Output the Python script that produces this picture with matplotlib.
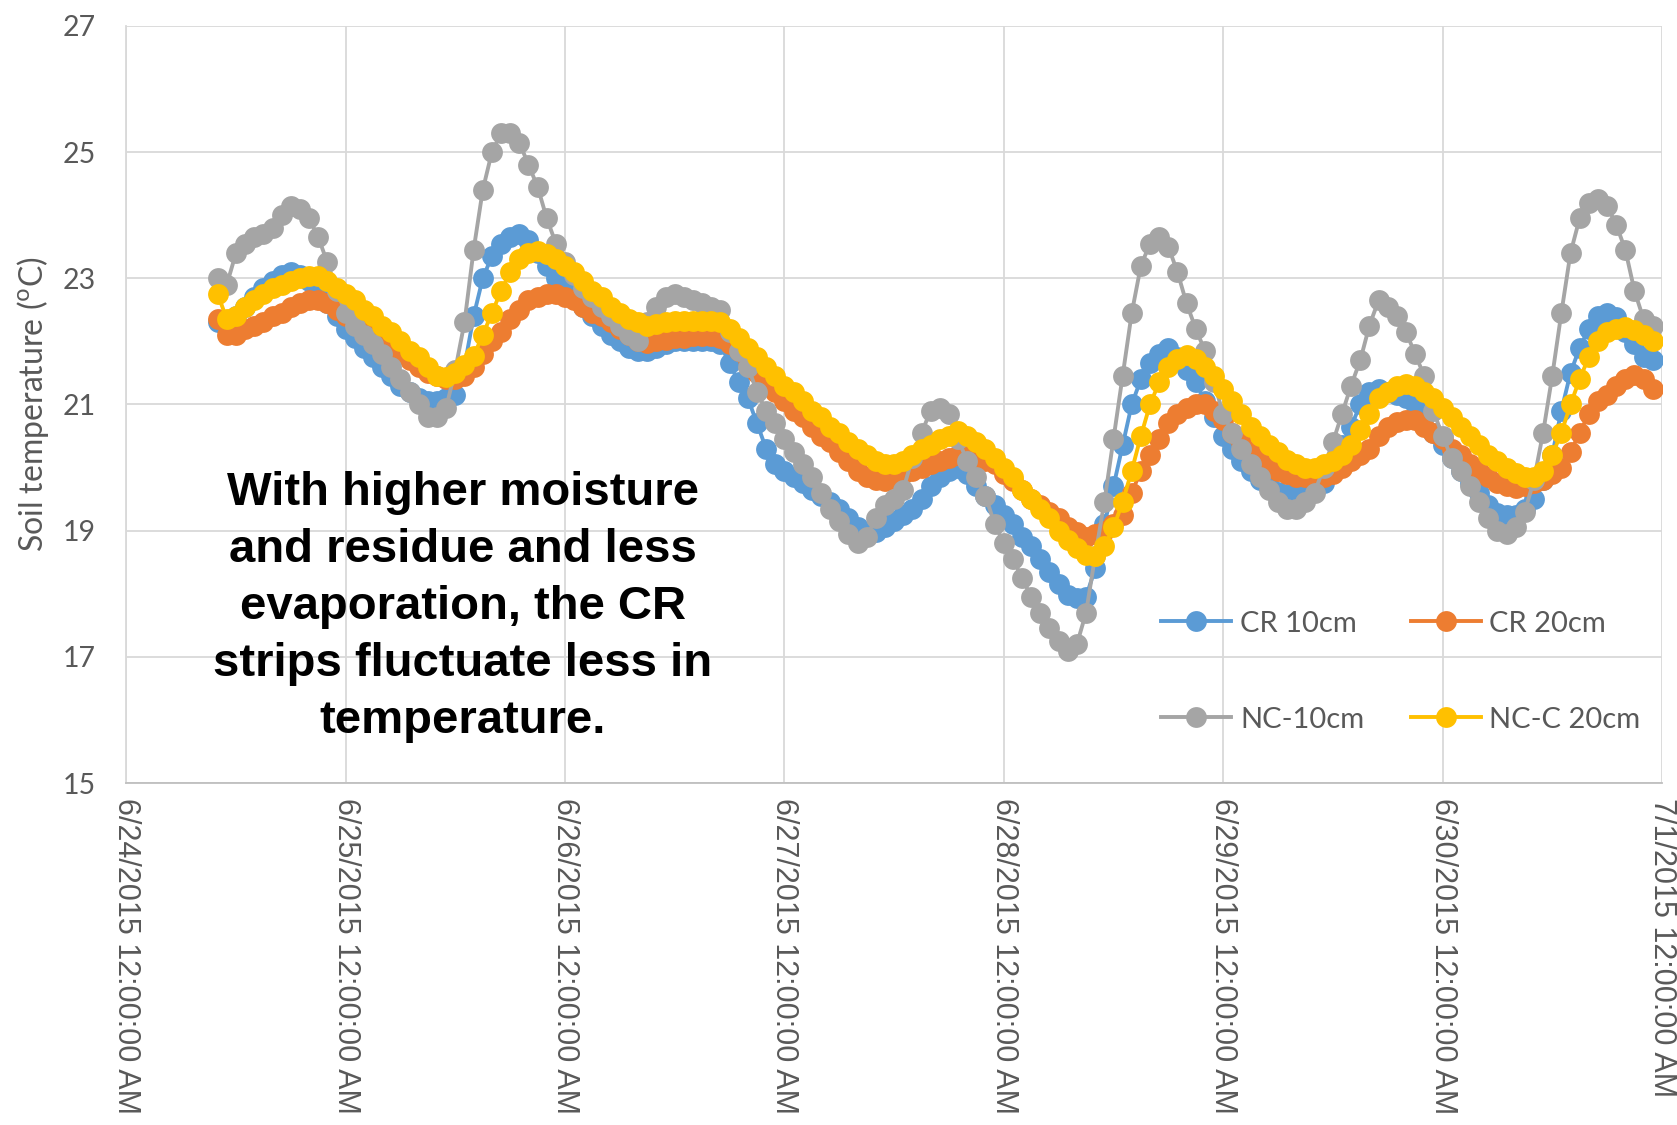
import matplotlib
matplotlib.use("Agg")
import matplotlib.pyplot as plt

# hourly readings, first one at 6/24 10:00 (hour 10 after 6/24 0:00)
start_hour = 10

cr_10 = [22.3, 22.2, 22.4, 22.55, 22.7, 22.85, 22.95, 23.05, 23.1, 23.05, 22.95, 22.8, 22.6, 22.4,
         22.2, 22.05, 21.9, 21.75, 21.6, 21.45, 21.3, 21.2, 21.1, 21.05, 21.05, 21.1, 21.15, 21.6, 22.4, 23.0, 23.35, 23.55, 23.65, 23.7, 23.6, 23.4, 23.2, 23.0,
         22.85, 22.7, 22.55, 22.4, 22.25, 22.1, 22.0, 21.9, 21.85, 21.85, 21.9, 21.95, 22.0, 22.0, 22.0, 22.0, 22.0, 21.95, 21.65, 21.35, 21.1, 20.7, 20.3, 20.05,
         19.95, 19.85, 19.75, 19.65, 19.55, 19.45, 19.35, 19.2, 19.05, 18.98, 18.98, 19.05, 19.15, 19.25, 19.35, 19.5, 19.7, 19.85, 19.95, 20.0, 19.9, 19.7, 19.55, 19.4,
         19.25, 19.1, 18.9, 18.75, 18.55, 18.35, 18.15, 17.98, 17.93, 17.95, 18.4, 19.1, 19.7, 20.35, 21.0, 21.4, 21.65, 21.8, 21.9, 21.75, 21.55, 21.35, 21.05, 20.8,
         20.5, 20.3, 20.1, 19.95, 19.8, 19.7, 19.62, 19.58, 19.58, 19.6, 19.65, 19.75, 20.0, 20.35, 20.65, 21.0, 21.2, 21.25, 21.2, 21.15, 21.1, 21.0, 20.8, 20.55,
         20.35, 20.15, 19.95, 19.75, 19.6, 19.4, 19.28, 19.25, 19.25, 19.35, 19.5, 19.8, 20.2, 20.9, 21.5, 21.9, 22.2, 22.4, 22.45, 22.38, 22.15, 21.95, 21.75, 21.7]

cr_20 = [22.35, 22.1, 22.1, 22.2, 22.25, 22.3, 22.4, 22.45, 22.55, 22.6, 22.65, 22.65, 22.6, 22.5,
         22.4, 22.3, 22.2, 22.1, 22.0, 21.9, 21.8, 21.7, 21.6, 21.5, 21.45, 21.4, 21.4, 21.45, 21.6, 21.8, 22.0, 22.15, 22.35, 22.5, 22.65, 22.7, 22.75, 22.75,
         22.7, 22.65, 22.55, 22.45, 22.4, 22.3, 22.2, 22.1, 22.0, 21.98, 22.0, 22.02, 22.05, 22.05, 22.08, 22.08, 22.08, 22.05, 21.95, 21.85, 21.7, 21.5, 21.35, 21.2,
         21.05, 20.9, 20.8, 20.65, 20.5, 20.4, 20.25, 20.1, 19.95, 19.85, 19.8, 19.78, 19.82, 19.9, 19.95, 20.0, 20.05, 20.1, 20.15, 20.2, 20.2, 20.15, 20.1, 20.05,
         19.9, 19.78, 19.65, 19.5, 19.4, 19.3, 19.2, 19.05, 18.98, 18.9, 18.95, 19.0, 19.1, 19.25, 19.6, 19.95, 20.2, 20.45, 20.7, 20.85, 20.95, 21.0, 21.0, 20.9,
         20.75, 20.55, 20.4, 20.25, 20.1, 20.0, 19.95, 19.9, 19.85, 19.85, 19.85, 19.85, 19.9, 20.0, 20.1, 20.2, 20.3, 20.5, 20.65, 20.72, 20.75, 20.75, 20.65, 20.55,
         20.45, 20.3, 20.2, 20.05, 19.95, 19.85, 19.75, 19.7, 19.68, 19.7, 19.75, 19.8, 19.9, 20.0, 20.25, 20.55, 20.85, 21.05, 21.15, 21.3, 21.4, 21.47, 21.4, 21.25]

nc_10 = [23.0, 22.9, 23.4, 23.55, 23.65, 23.7, 23.8, 24.0, 24.15, 24.1, 23.95, 23.65, 23.25, 22.8,
         22.45, 22.25, 22.1, 21.95, 21.8, 21.6, 21.4, 21.2, 21.0, 20.8, 20.8, 20.95, 21.55, 22.3, 23.45, 24.4, 25.0, 25.3, 25.3, 25.15, 24.8, 24.45, 23.95, 23.55,
         23.25, 23.05, 22.85, 22.7, 22.55, 22.4, 22.25, 22.1, 22.0, 22.3, 22.55, 22.7, 22.75, 22.7, 22.65, 22.6, 22.55, 22.5, 22.15, 21.85, 21.6, 21.2, 20.9, 20.7,
         20.45, 20.25, 20.05, 19.85, 19.6, 19.35, 19.15, 18.95, 18.8, 18.9, 19.2, 19.4, 19.5, 19.65, 20.15, 20.55, 20.9, 20.95, 20.85, 20.45, 20.1, 19.85, 19.55, 19.1,
         18.8, 18.55, 18.25, 17.95, 17.7, 17.45, 17.25, 17.1, 17.2, 17.7, 18.6, 19.45, 20.45, 21.45, 22.45, 23.2, 23.55, 23.65, 23.5, 23.1, 22.6, 22.2, 21.85, 21.35,
         20.85, 20.55, 20.3, 20.05, 19.85, 19.65, 19.45, 19.35, 19.35, 19.45, 19.6, 20.0, 20.4, 20.85, 21.3, 21.7, 22.25, 22.65, 22.55, 22.4, 22.15, 21.8, 21.45, 20.9,
         20.5, 20.15, 19.95, 19.7, 19.45, 19.2, 19.0, 18.95, 19.05, 19.3, 19.8, 20.55, 21.45, 22.45, 23.4, 23.95, 24.2, 24.25, 24.15, 23.85, 23.45, 22.8, 22.35, 22.25]

ncc_20 = [22.75, 22.35, 22.4, 22.55, 22.65, 22.75, 22.85, 22.9, 22.95, 23.0, 23.03, 23.03, 22.95, 22.85,
          22.75, 22.65, 22.5, 22.4, 22.25, 22.15, 22.0, 21.85, 21.75, 21.6, 21.45, 21.43, 21.5, 21.62, 21.77, 22.1, 22.45, 22.8, 23.1, 23.3, 23.4, 23.43, 23.38, 23.3,
          23.2, 23.1, 22.95, 22.8, 22.7, 22.55, 22.45, 22.35, 22.3, 22.25, 22.28, 22.3, 22.32, 22.32, 22.32, 22.32, 22.32, 22.3, 22.2, 22.05, 21.9, 21.75, 21.6, 21.45,
          21.3, 21.2, 21.05, 20.9, 20.8, 20.65, 20.55, 20.4, 20.3, 20.2, 20.1, 20.05, 20.05, 20.1, 20.2, 20.3, 20.35, 20.45, 20.5, 20.58, 20.5, 20.4, 20.3, 20.15,
          20.0, 19.85, 19.65, 19.5, 19.35, 19.2, 19.0, 18.85, 18.72, 18.62, 18.6, 18.75, 19.05, 19.45, 19.95, 20.5, 21.0, 21.35, 21.6, 21.72, 21.78, 21.72, 21.6, 21.45,
          21.25, 21.05, 20.85, 20.65, 20.5, 20.35, 20.25, 20.12, 20.05, 20.0, 20.0, 20.05, 20.1, 20.2, 20.35, 20.6, 20.85, 21.1, 21.2, 21.3, 21.32, 21.3, 21.2, 21.1,
          20.95, 20.8, 20.65, 20.5, 20.35, 20.2, 20.1, 20.0, 19.92, 19.85, 19.85, 19.95, 20.2, 20.55, 21.0, 21.4, 21.75, 22.0, 22.15, 22.2, 22.22, 22.18, 22.1, 22.0]

series_names = ["CR 10cm", "CR 20cm", "NC-10cm", "NC-C 20cm"]
series_colors = ["#5B9BD5", "#ED7D31", "#A5A5A5", "#FFC000"]

day_labels = ["6/24/2015 12:00:00 AM", "6/25/2015 12:00:00 AM", "6/26/2015 12:00:00 AM",
              "6/27/2015 12:00:00 AM", "6/28/2015 12:00:00 AM", "6/29/2015 12:00:00 AM",
              "6/30/2015 12:00:00 AM", "7/1/2015 12:00:00 AM"]
y_ticks = [15, 17, 19, 21, 23, 25, 27]

note = "With higher moisture\nand residue and less\nevaporation, the CR\nstrips fluctuate less in\ntemperature."

hours = [start_hour + i for i in range(len(cr_10))]

fig = plt.figure(figsize=(16.77, 11.25), dpi=100)
ax = fig.add_axes([0.0753, 0.304, 0.9157, 0.673])

lines = []
for vals, name, col in zip([cr_10, cr_20, nc_10, ncc_20], series_names, series_colors):
    ln, = ax.plot(hours, vals, color=col, lw=2.8, marker="o", ms=15,
                  markeredgewidth=0, label=name, zorder=3)
    lines.append(ln)

ax.set_xlim(0, 24 * (len(day_labels) - 1))
ax.set_ylim(15, 27)
ax.set_xticks([24 * i for i in range(len(day_labels))])
ax.set_xticklabels(day_labels, rotation=-90, fontsize=22, color="#595959",
                   family="Liberation Sans", va="top", ha="center")
ax.set_yticks(y_ticks)
ax.set_yticklabels([str(v) for v in y_ticks], fontsize=20.5, color="#595959", family="Lato")
ax.tick_params(axis="both", length=0)
ax.tick_params(axis="y", pad=22)
ax.tick_params(axis="x", pad=11)

ax.grid(True, color="#d9d9d9", lw=1.3, zorder=0)
ax.set_axisbelow(True)
for s in ["top", "right"]:
    ax.spines[s].set_visible(False)
ax.spines["left"].set_color("#d9d9d9")
ax.spines["bottom"].set_color("#bfbfbf")
ax.spines["left"].set_linewidth(1.3)
ax.spines["bottom"].set_linewidth(1.3)

ax.set_ylabel(r"Soil temperature ($^{\rm o}$C)", fontsize=23, color="#595959", family="Lato")
ax.yaxis.set_label_coords(-0.049, 0.5)

# legend: two rows, CR on top, NC below
order = [0, 2, 1, 3]
leg = ax.legend([lines[i] for i in order], [series_names[i] for i in order],
                ncol=2, loc="center", bbox_to_anchor=(0.83, 0.147), frameon=False,
                prop={"family": "Lato", "size": 21}, handlelength=2.4,
                handletextpad=0.3, labelspacing=2.4, columnspacing=1.6, borderpad=0)
for t in leg.get_texts():
    t.set_color("#595959")

ax.text(0.219, 0.2328, note, transform=ax.transAxes, ha="center", va="center",
        fontsize=34, fontweight="bold", family="Liberation Sans", linespacing=1.38,
        color="black", zorder=5)

fig.savefig("out.png", dpi=100)
